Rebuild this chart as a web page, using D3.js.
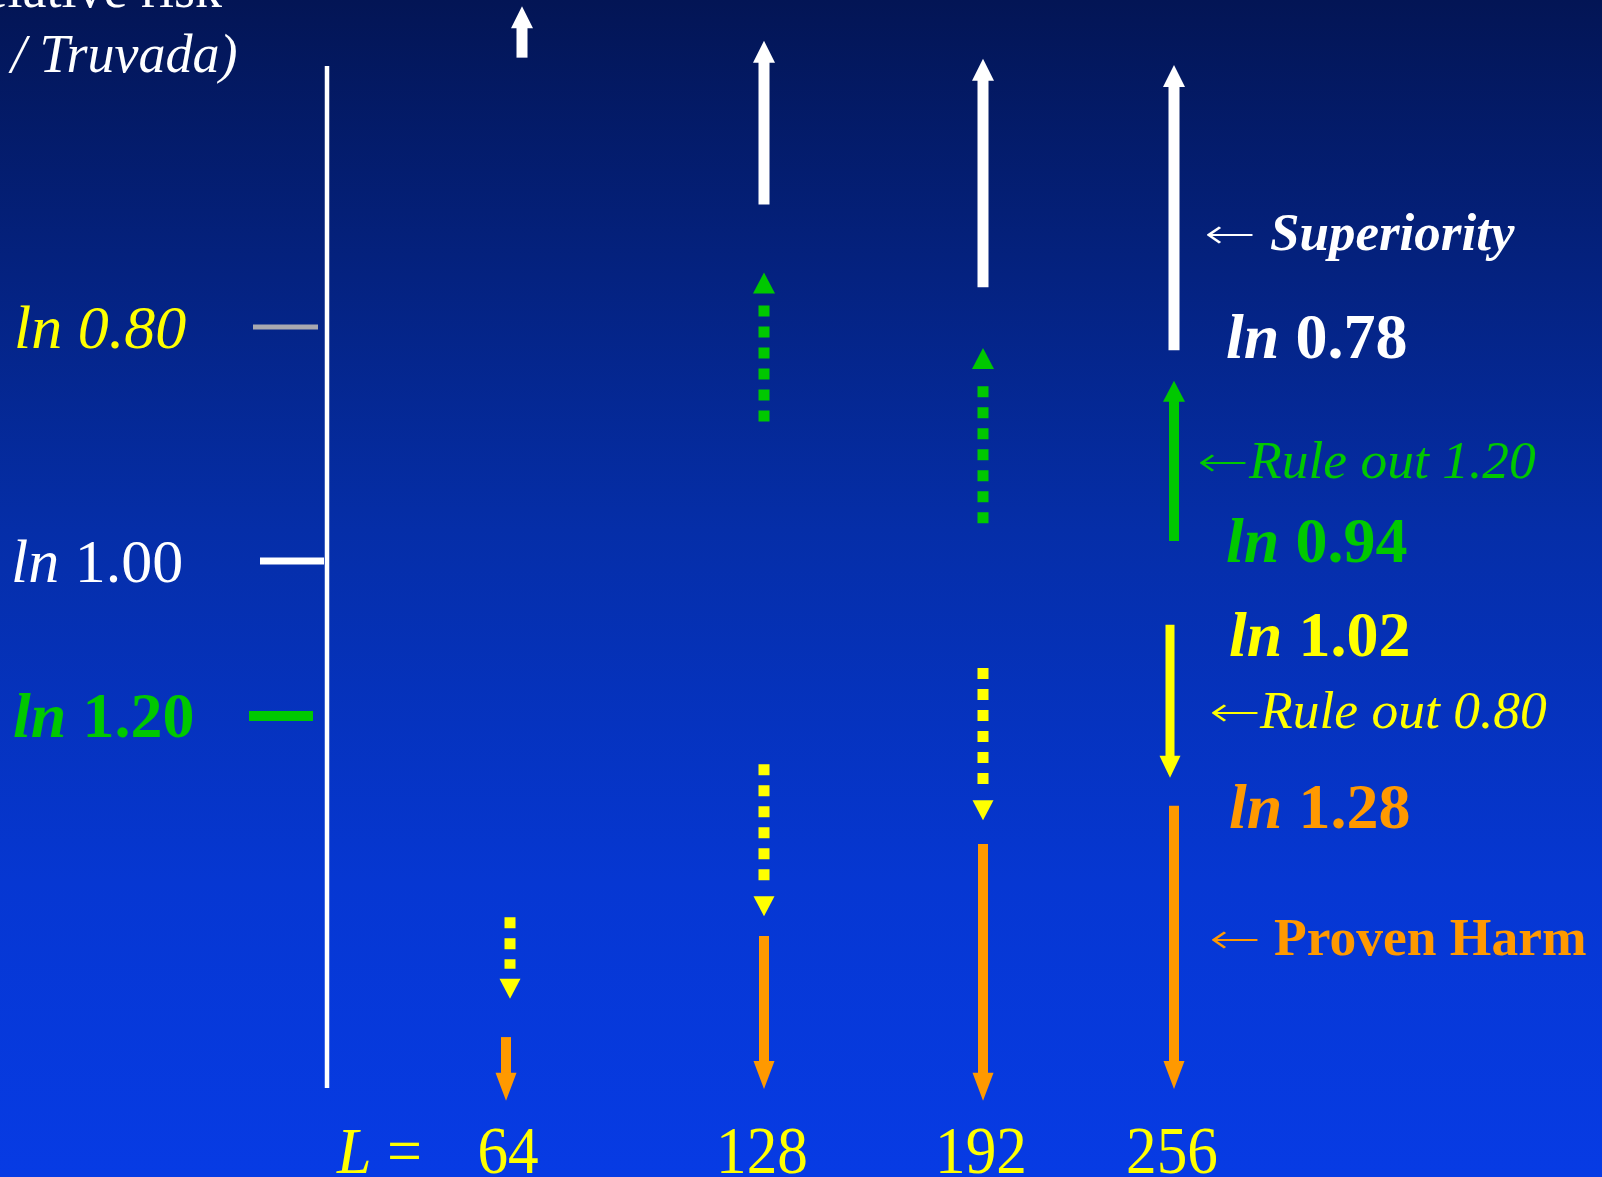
<!DOCTYPE html>
<html><head><meta charset="utf-8">
<script src="https://cdn.jsdelivr.net/npm/d3@7"></script>
<style>html,body{margin:0;padding:0;overflow:hidden;background:#0530b8}</style>
</head><body><svg id="c" width="1602" height="1177"></svg>
<script>
// ---- data (schematic ln(relative risk) units) ----
const columns = [64, 128, 192, 256];
const columnLabels = ["64", "128", "192", "256"];
const tickValues = [0.80, 1.00, 1.20];
const tickNames = ["0.80", "1.00", "1.20"];
const axisRange = [-0.472, 0.62];
// arrow tail value and tip value for each column (null = no arrow)
const superiorityTail = [-0.480, -0.340, -0.261, -0.201];
const superiorityTip  = [-0.529, -0.496, -0.479, -0.473];
const ruleOut120Tail  = [null, -0.133, -0.036, -0.019];
const ruleOut120Tip   = [null, -0.275, -0.203, -0.172];
const ruleOut080Tail  = [0.419, 0.239, 0.126, 0.075];
const ruleOut080Tip   = [0.515, 0.418, 0.305, 0.255];
const harmTail        = [0.560, 0.441, 0.333, 0.288];
const harmTip         = [0.635, 0.621, 0.635, 0.621];
const dottedFlags     = [true, true, true, false];
const boundaryValues  = ["0.78", "0.94", "1.02", "1.28"];
const zoneNames       = ["Superiority", "Rule out 1.20", "Rule out 0.80", "Proven Harm"];

// ---- colours ----
const WHITE = "#ffffff", GREEN = "#00c800", YELLOW = "#ffff00", ORANGE = "#ff9900", GRAY = "#a8a8b0";
const SERIF = "'Liberation Serif','Times New Roman',serif";

const svg = d3.select("#c");
const defs = svg.append("defs");
const grad = defs.append("linearGradient").attr("id", "bg").attr("x1", 0).attr("y1", 0).attr("x2", 0).attr("y2", 1);
grad.append("stop").attr("offset", "0%").attr("stop-color", "#031555");
grad.append("stop").attr("offset", "45%").attr("stop-color", "#052ea8");
grad.append("stop").attr("offset", "75%").attr("stop-color", "#0637d2");
grad.append("stop").attr("offset", "100%").attr("stop-color", "#073be4");
svg.append("rect").attr("width", 1602).attr("height", 1177).attr("fill", "url(#bg)");

// ---- scales ----
const y = d3.scaleLinear()
  .domain([Math.log(0.80), 0, Math.log(1.20)])
  .range([327, 561, 716]);
const x = d3.scaleLinear().domain(columns).range([510, 764, 983, 1174]);
const axisX = 327;

// ---- axis ----
svg.append("line").attr("x1", axisX).attr("x2", axisX)
  .attr("y1", y(axisRange[0])).attr("y2", y(axisRange[1]))
  .attr("stroke", WHITE).attr("stroke-width", 4.5);

const tickColors = [GRAY, WHITE, GREEN];
const tickWidths = [5, 7, 10];
const tickSpan = [[-74, -9], [-67, -3], [-78, -14]];
tickValues.forEach((v, i) => {
  svg.append("line")
    .attr("x1", axisX + tickSpan[i][0]).attr("x2", axisX + tickSpan[i][1])
    .attr("y1", y(Math.log(v))).attr("y2", y(Math.log(v)))
    .attr("stroke", tickColors[i]).attr("stroke-width", tickWidths[i]);
});

// tick labels
const tickLab = [
  {num: "italic", weight: "normal", color: YELLOW, size: 62, x: 14},
  {num: "normal", weight: "normal", color: WHITE, size: 62, x: 11},
  {num: "normal", weight: "bold", color: GREEN, size: 64, x: 13}
];
tickValues.forEach((v, i) => {
  const t = svg.append("text").attr("x", tickLab[i].x).attr("y", y(Math.log(v)) + 21)
    .attr("font-family", SERIF).attr("font-size", tickLab[i].size)
    .attr("fill", tickLab[i].color).attr("font-weight", tickLab[i].weight);
  t.append("tspan").attr("font-style", "italic").text("ln ");
  t.append("tspan").attr("font-style", tickLab[i].num).text(tickNames[i]);
});

// axis title (partially off-canvas, as in the original)
svg.append("text").attr("x", 222).attr("y", 7).attr("text-anchor", "end")
  .attr("font-family", SERIF).attr("font-size", 54).attr("fill", WHITE).text("Relative risk");
svg.append("text").attr("x", 11).attr("y", 72)
  .attr("font-family", SERIF).attr("font-size", 54).attr("font-style", "italic")
  .attr("fill", WHITE).text("/ Truvada)");

// ---- arrows ----
function drawArrow(cx, tailV, tipV, color, opts) {
  const y0 = y(tailV), y1 = y(tipV);
  const dir = Math.sign(y1 - y0);
  const hb = y1 - dir * opts.headH;
  const g = svg.append("g");
  g.append("line").attr("x1", cx).attr("x2", cx).attr("y1", y0).attr("y2", hb + (opts.dotted ? -dir * 10 : dir * 1))
    .attr("stroke", color).attr("stroke-width", opts.w)
    .attr("stroke-dasharray", opts.dotted ? "11 10" : null);
  g.append("path")
    .attr("d", d3.line()([[cx - opts.headW / 2, hb], [cx + opts.headW / 2, hb], [cx, y1]]) + "Z")
    .attr("fill", color);
}

columns.forEach((c, i) => {
  const cx = x(c);
  if (superiorityTail[i] != null)
    drawArrow(cx + (i === 0 ? 12 : 0), superiorityTail[i], superiorityTip[i], WHITE, {w: 11, headW: 22, headH: 22, dotted: false});
  if (ruleOut120Tail[i] != null)
    drawArrow(cx, ruleOut120Tail[i], ruleOut120Tip[i], GREEN, {w: dottedFlags[i] ? 11 : 10, headW: 22, headH: 21, dotted: dottedFlags[i]});
  if (ruleOut080Tail[i] != null)
    drawArrow(cx - (i === 3 ? 4 : 0), ruleOut080Tail[i], ruleOut080Tip[i], YELLOW, {w: dottedFlags[i] ? 11 : 9, headW: 21, headH: dottedFlags[i] ? 20 : 22, dotted: dottedFlags[i]});
  if (harmTail[i] != null)
    drawArrow(cx - (i === 0 ? 4 : 0), harmTail[i], harmTip[i], ORANGE, {w: 10, headW: 21, headH: 28, dotted: false});
});

// ---- column labels ----
const bottom = svg.append("g").attr("font-family", SERIF).attr("fill", YELLOW);
columns.forEach((c, i) => {
  bottom.append("text").attr("transform", `translate(${x(c) - 2},1173) scale(0.9,1)`)
    .attr("text-anchor", "middle").attr("font-size", 68).text(columnLabels[i]);
});
const Leq = bottom.append("text").attr("transform", "translate(337,1173) scale(0.94,1)").attr("font-size", 66);
Leq.append("tspan").attr("font-style", "italic").text("L");
Leq.append("tspan").text(" =");

// ---- right annotations ----
const ann = svg.append("g").attr("font-family", SERIF);
const bColors = [WHITE, GREEN, YELLOW, ORANGE];
const bY = [358, 562, 656, 828];
const bX = [1226, 1226, 1229, 1229];
boundaryValues.forEach((v, i) => {
  const t = ann.append("text").attr("x", bX[i]).attr("y", bY[i])
    .attr("font-size", 64).attr("font-weight", "bold").attr("fill", bColors[i]);
  t.append("tspan").attr("font-style", "italic").text("ln ");
  t.append("tspan").text(v);
});

// zone annotations: long thin arrow glyph (stretched to width), then the label
const zoneColors = [WHITE, GREEN, YELLOW, ORANGE];
const zoneArrowX = [1204, 1197, 1209, 1209];
const zoneTextX = [1270, 1249, 1260, 1274];
const zoneY = [250, 478, 728, 955];
const zoneStyle = [
  {w: "bold", s: "italic", size: 53},
  {w: "normal", s: "italic", size: 53.5},
  {w: "normal", s: "italic", size: 53.5},
  {w: "bold", s: "normal", size: 53.5}
];
zoneNames.forEach((name, i) => {
  const a = ann.append("text").attr("x", 0).attr("y", 0)
    .attr("font-family", "'DejaVu Sans'").attr("font-weight", 200)
    .attr("font-size", 42).attr("fill", zoneColors[i]).text("\u2190");
  const bb = a.node().getBBox();
  const sx = 52 / Math.max(bb.width, 1);
  a.attr("transform", `translate(${zoneArrowX[i] - bb.x * sx},${zoneY[i] - 2}) scale(${sx},1)`);
  ann.append("text").attr("x", zoneTextX[i]).attr("y", zoneY[i])
    .attr("font-size", zoneStyle[i].size).attr("font-weight", zoneStyle[i].w)
    .attr("font-style", zoneStyle[i].s).attr("fill", zoneColors[i]).text(name);
});
</script>
</body></html>
